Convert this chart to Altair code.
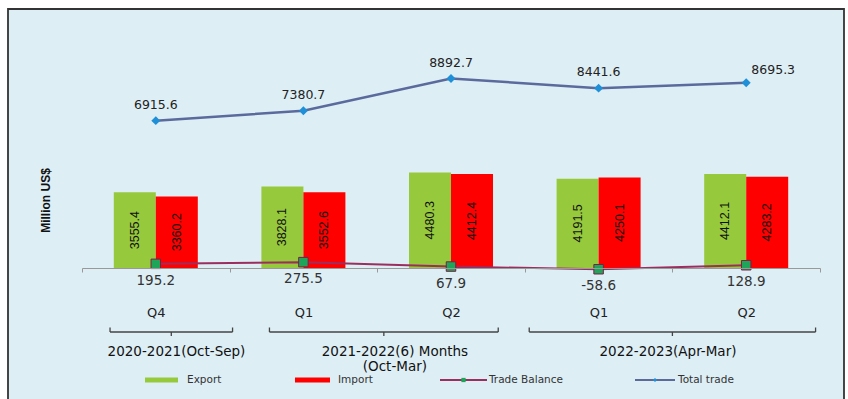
import altair as alt
import pandas as pd

# ---------------- data ----------------
fiscal_years = ["2020-2021(Oct-Sep)", "2021-2022(6) Months\n(Oct-Mar)", "2022-2023(Apr-Mar)"]
quarters = ["Q4", "Q1", "Q2", "Q1", "Q2"]
export = [3555.4, 3828.1, 4480.3, 4191.5, 4412.1]
imports = [3360.2, 3552.6, 4412.4, 4250.1, 4283.2]
trade_balance = [195.2, 275.5, 67.9, -58.6, 128.9]
total_trade = [6915.6, 7380.7, 8892.7, 8441.6, 8695.3]
series = ["Export", "Import", "Trade Balance", "Total trade"]
series_colors = ["#97c93d", "#ff0000", "#9b2d5f", "#5a6a9c"]

# ---------------- layout (pixels / band units) ----------------
W, H = 738, 238
PAD = {"left": 82, "top": 30, "right": 28, "bottom": 131}
STEP = W / len(quarters)
brace_start = [0.19, 1.27, 3.03]
brace_end = [1.02, 2.82, 4.97]
label_pos = [0.64, 2.12, 3.97]
legend_sym_px = [(63, 96), (213, 248), (358, 405), (553, 593)]
legend_txt_px = [105, 256, 407, 596]

keys = [f"{i}|{q}" for i, q in enumerate(quarters)]
df = pd.DataFrame({"key": keys, "export": export, "import": imports,
                   "balance": trade_balance, "total": total_trade})
df["balance_txt"] = [f"{v:.1f}" for v in trade_balance]
bars_df = pd.DataFrame({
    "key": keys * 2,
    "series": ["Export"] * 5 + ["Import"] * 5,
    "value": export + imports,
})

xs = alt.Scale(type="band", domain=keys, paddingInner=0, paddingOuter=0)
ys = alt.Scale(domain=[0, 11170], nice=False, zero=True)
y_axis = alt.Axis(title="Million US$", labels=False, ticks=False, domain=False, grid=False,
                  titleX=-37, titleY=170, titleAngle=270, titleAlign="center",
                  titleBaseline="middle", titleFont="Liberation Sans", titleFontSize=12,
                  titleFontWeight="bold", titleColor="#111", zindex=2)
x_axis = alt.Axis(title=None, labelExpr="split(datum.value, '|')[1]", labelAngle=0,
                  labelPadding=34, labelFontSize=13, labelFont="DejaVu Sans", labelColor="#222",
                  domainColor="#999", tickColor="#999", tickSize=4, tickBand="extent", grid=False,
                  zindex=2)
X = alt.X("key:N", scale=xs, axis=x_axis, title=None)


def Y(field):
    return alt.Y(field, scale=ys, axis=y_axis, title="Million US$")


off = alt.XOffset("series:N", scale=alt.Scale(domain=["Export", "Import"], paddingOuter=0.757, paddingInner=0))

bars = alt.Chart(bars_df).mark_bar().encode(
    x=X, xOffset=off,
    y=Y("value:Q"),
    color=alt.Color("series:N", scale=alt.Scale(domain=series[:2], range=series_colors[:2]), legend=None),
)
bar_text = alt.Chart(bars_df).transform_calculate(mid="datum.value / 2").mark_text(
    angle=270, font="Liberation Sans", fontSize=12.5, color="#111", baseline="middle", align="center"
).encode(
    x=X, xOffset=off,
    y=Y("mid:Q"),
    text=alt.Text("value:Q", format=".1f"),
)

base = alt.Chart(df)
tb_line = base.mark_line(color=series_colors[2], strokeWidth=2).encode(x=X, y=Y("balance:Q"))
tb_pts = base.mark_point(shape="square", filled=True, fill="#1ea55a", stroke="#7b1f45",
                         strokeWidth=1, size=90, opacity=1).encode(x=X, y=Y("balance:Q"))
tb_text = base.mark_text(baseline="top", dy=10, font="DejaVu Sans", fontSize=13.5, color="#333").encode(
    x=X, y=Y("balance:Q"), text="balance_txt:N")

tt_line = base.mark_line(color=series_colors[3], strokeWidth=2.5).encode(x=X, y=Y("total:Q"))
tt_pts = base.mark_point(shape="diamond", filled=True, color="#1f8fd8", size=80, opacity=1).encode(
    x=X, y=Y("total:Q"))
tt_text = base.transform_filter(f"datum.key != '{keys[-1]}'").mark_text(
    baseline="bottom", dy=-9, font="DejaVu Sans", fontSize=12.5, color="#222").encode(
    x=X, y=Y("total:Q"), text=alt.Text("total:Q", format=".1f"))
tt_text_last = base.transform_filter(f"datum.key == '{keys[-1]}'").mark_text(
    baseline="bottom", dy=-6, dx=27, font="DejaVu Sans", fontSize=12.5, color="#222").encode(
    x=X, y=Y("total:Q"), text=alt.Text("total:Q", format=".1f"))

main = alt.layer(bars, bar_text, tb_line, tb_pts, tb_text, tt_line, tt_pts, tt_text, tt_text_last)

# ---------------- annotations: braces, group labels, legend ----------------
ax = alt.Scale(domain=[0, len(quarters)], nice=False, zero=False)
groups = pd.DataFrame({
    "label": fiscal_years,
    "start": brace_start,
    "end": brace_end,
    "lpos": label_pos,
})
groups["center"] = (groups["start"] + groups["end"]) / 2
brace_line = alt.Chart(groups).mark_rule(color="#444", strokeWidth=1.3).encode(
    x=alt.X("start:Q", scale=ax, axis=None), x2="end:Q", y=alt.value(302))
ends = pd.DataFrame({"pos": brace_start + brace_end})
brace_ends = alt.Chart(ends).mark_rule(color="#444", strokeWidth=1.3).encode(
    x=alt.X("pos:Q", scale=ax, axis=None), y=alt.value(297.5), y2=alt.value(302))
brace_mid = alt.Chart(groups).mark_rule(color="#444", strokeWidth=1.3).encode(
    x=alt.X("center:Q", scale=ax, axis=None), y=alt.value(302), y2=alt.value(306))
group_text = alt.Chart(groups).transform_calculate(lines="split(datum.label, '\\n')").mark_text(
    baseline="top", align="center", font="DejaVu Sans", fontSize=13.5, color="#111", lineHeight=15
).encode(x=alt.X("lpos:Q", scale=ax, axis=None), y=alt.value(315), text=alt.Text("lines:N"))

leg = pd.DataFrame({
    "series": series,
    "col": series_colors,
    "s0": [a / STEP for a, b in legend_sym_px],
    "s1": [b / STEP for a, b in legend_sym_px],
    "t": [t / STEP for t in legend_txt_px],
})
leg["mid"] = (leg["s0"] + leg["s1"]) / 2
LY = 350
leg_color = alt.Color("col:N", scale=None, legend=None)
leg_thick = alt.Chart(leg).transform_filter("indexof(['Export','Import'], datum.series) >= 0").mark_rule(
    strokeWidth=5).encode(x=alt.X("s0:Q", scale=ax, axis=None), x2="s1:Q", y=alt.value(LY), color=leg_color)
leg_thin = alt.Chart(leg).transform_filter("indexof(['Export','Import'], datum.series) < 0").mark_rule(
    strokeWidth=2).encode(x=alt.X("s0:Q", scale=ax, axis=None), x2="s1:Q", y=alt.value(LY), color=leg_color)
leg_sq = alt.Chart(leg).transform_filter("datum.series == 'Trade Balance'").mark_point(
    shape="square", filled=True, color="#1ea55a", size=18, opacity=1).encode(
    x=alt.X("mid:Q", scale=ax, axis=None), y=alt.value(LY))
leg_dm = alt.Chart(leg).transform_filter("datum.series == 'Total trade'").mark_point(
    shape="diamond", filled=True, color="#1f8fd8", size=18, opacity=1).encode(
    x=alt.X("mid:Q", scale=ax, axis=None), y=alt.value(LY))
leg_text = alt.Chart(leg).mark_text(align="left", baseline="middle", font="DejaVu Sans",
                                    fontSize=10.5, color="#333").encode(
    x=alt.X("t:Q", scale=ax, axis=None), y=alt.value(LY), text="series:N")

annot = alt.layer(brace_line, brace_ends, brace_mid, group_text,
                  leg_thick, leg_thin, leg_sq, leg_dm, leg_text)

box = alt.Chart(alt.Data(values=[{"a": 1}])).mark_rect(
    fill="#ddeef5", stroke="#333", strokeWidth=1.8).encode(
    x=alt.value(-74), x2=alt.value(762), y=alt.value(-21), y2=alt.value(385))

chart = alt.layer(box, main, annot).resolve_scale(x="independent", color="independent").properties(
    width=W, height=H,
    autosize=alt.AutoSizeParams(type="none"),
    padding=PAD,
    background="white",
).configure_view(stroke=None)

chart.save("out.html", embed_options={"renderer": "svg", "actions": False})
